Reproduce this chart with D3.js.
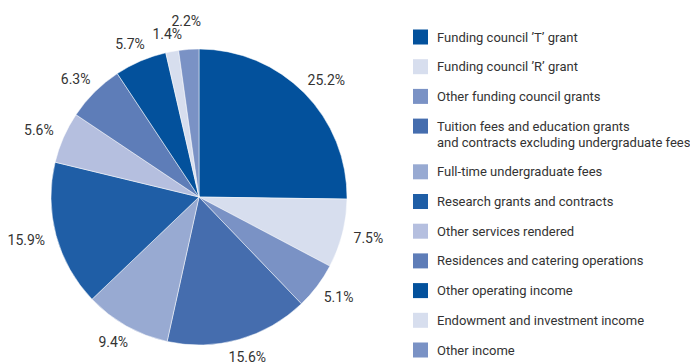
<!DOCTYPE html>
<html>
<head>
<meta charset="utf-8">
<script src="https://cdn.jsdelivr.net/npm/d3@7"></script>
<style>
  html, body { margin: 0; padding: 0; background: #fff; }
  svg { display: block; }
  text { font-family: Roboto, "Liberation Sans", sans-serif; fill: #333; }
</style>
</head>
<body>
<svg id="chart" width="690" height="363"></svg>
<script>
// Income sources, share of total (%)
const categories = [
  "Funding council ’T’ grant",
  "Funding council ’R’ grant",
  "Other funding council grants",
  "Tuition fees and education grants\nand contracts excluding undergraduate fees",
  "Full-time undergraduate fees",
  "Research grants and contracts",
  "Other services rendered",
  "Residences and catering operations",
  "Other operating income",
  "Endowment and investment income",
  "Other income"
];
const shares = [25.2, 7.5, 5.1, 15.6, 9.4, 15.9, 5.6, 6.3, 5.7, 1.4, 2.2];
const colors = ["#03519c", "#d7deee", "#7a92c5", "#456dae", "#98aad2", "#1f5ea6",
                "#b5bfdf", "#5e7db8", "#03519c", "#d7deee", "#7a92c5"];

const data = categories.map((c, i) => ({ name: c, value: shares[i], color: colors[i] }));

const svg = d3.select("#chart");
const cx = 199, cy = 197, radius = 148, labelRadius = 160;

const pie = d3.pie().value(d => d.value).sort(null);
const arc = d3.arc().innerRadius(0).outerRadius(radius);

const g = svg.append("g").attr("transform", `translate(${cx},${cy})`);
const arcs = pie(data);

g.selectAll("path.slice")
  .data(arcs)
  .join("path")
  .attr("class", "slice")
  .attr("d", arc)
  .attr("fill", d => d.data.color)
  .attr("stroke", "#fff")
  .attr("stroke-width", 0.5);

// Percentage labels: placed just outside the rim, nudged away from the
// centre by half their own size, and pushed outward if they collide.
const labels = g.selectAll("text.pct")
  .data(arcs)
  .join("text")
  .attr("class", "pct")
  .attr("text-anchor", "middle")
  .attr("dy", "0.35em")
  .style("font-size", "14px")
  .text(d => d.data.value.toFixed(1) + "%");

const placed = [];
labels.each(function(d) {
  const a = (d.startAngle + d.endAngle) / 2;
  const s = Math.sin(a), c = -Math.cos(a);
  const hw = this.getComputedTextLength() / 2, hh = 6;
  let r = labelRadius, box;
  const boxAt = rr => {
    const x = rr * s + s * hw, y = rr * c + c * hh;
    return { x, y, x0: x - hw, x1: x + hw, y0: y - hh, y1: y + hh };
  };
  const hits = b => placed.some(p => b.x0 < p.x1 && b.x1 > p.x0 && b.y0 < p.y1 && b.y1 > p.y0);
  box = boxAt(r);
  while (hits(box) && r < labelRadius + 60) { r += 1; box = boxAt(r); }
  placed.push(box);
  d3.select(this).attr("transform", `translate(${box.x},${box.y})`);
});

// Legend
const legend = svg.append("g").attr("transform", "translate(413,37)");
const rowGap = 29.7, lineGap = 16;
let y = 0;
data.forEach(d => {
  const lines = d.name.split("\n");
  const item = legend.append("g").attr("transform", `translate(0,${y})`);
  item.append("rect")
    .attr("x", 0).attr("y", -7.5)
    .attr("width", 15).attr("height", 15)
    .attr("fill", d.color);
  const t = item.append("text")
    .attr("x", 24).attr("y", 0)
    .style("font-size", "13px");
  lines.forEach((ln, k) => {
    t.append("tspan").attr("x", 24).attr("dy", k === 0 ? "0.35em" : lineGap).text(ln);
  });
  y += rowGap + (lines.length - 1) * lineGap;
});
</script>
</body>
</html>
